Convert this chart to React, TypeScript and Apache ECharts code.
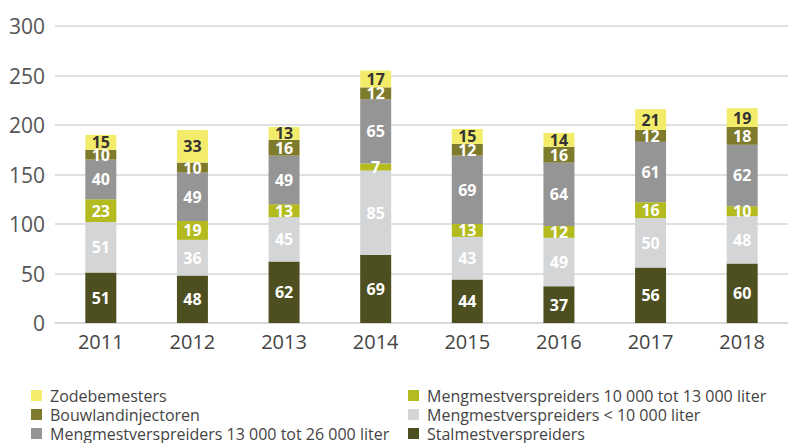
import React, { useEffect, useRef } from "react";
import * as echarts from "echarts";

const years = ["2011", "2012", "2013", "2014", "2015", "2016", "2017", "2018"];
const stalmest = [51, 48, 62, 69, 44, 37, 56, 60];
const mengKlein = [51, 36, 45, 85, 43, 49, 50, 48];
const mengMidden = [23, 19, 13, 7, 13, 12, 16, 10];
const mengGroot = [40, 49, 49, 65, 69, 64, 61, 62];
const bouwland = [10, 10, 16, 12, 12, 16, 12, 18];
const zode = [15, 33, 13, 17, 15, 14, 21, 19];

const names = {
  zode: "Zodebemesters",
  bouw: "Bouwlandinjectoren",
  groot: "Mengmestverspreiders 13 000 tot 26 000 liter",
  midden: "Mengmestverspreiders 10 000 tot 13 000 liter",
  klein: "Mengmestverspreiders < 10 000 liter",
  stal: "Stalmestverspreiders",
};

const FONT = "'Open Sans', sans-serif";

export default function App() {
  const ref = useRef<HTMLDivElement>(null);
  useEffect(() => {
    if (!ref.current) return;
    const chart = echarts.init(ref.current, null, { renderer: "svg" });
    const mk = (name: string, data: number[], color: string, labelColor: string) => ({
      name,
      type: "bar",
      stack: "total",
      data,
      barWidth: 31,
      itemStyle: { color },
      label: {
        show: true,
        position: "inside",
        color: labelColor,
        fontWeight: "bold",
        fontSize: 16,
        fontFamily: FONT,
      },
    });
    const legendText = {
      fontSize: 16,
      color: "#444",
      fontFamily: FONT,
      lineHeight: 19,
      padding: [0, 0, 0, 3],
    };
    const legendBase = {
      orient: "vertical",
      top: 386,
      height: 60,
      padding: 0,
      itemWidth: 11,
      itemHeight: 11,
      itemGap: 0,
      icon: "rect",
      textStyle: legendText,
    };
    chart.setOption({
      animation: false,
      grid: { left: 55, top: 26, bottom: 120, width: 751, containLabel: false },
      xAxis: {
        type: "category",
        data: years,
        axisTick: { show: false },
        axisLine: { lineStyle: { color: "#d6d6d6", width: 1.5 } },
        axisLabel: { fontSize: 20, color: "#444", fontFamily: FONT, margin: 8 },
      },
      yAxis: {
        type: "value",
        min: 0,
        max: 300,
        interval: 50,
        axisLabel: { fontSize: 21, color: "#555", fontFamily: FONT, margin: 10 },
        splitLine: { lineStyle: { color: "#d6d6d6", width: 1.5 } },
        axisLine: { show: false },
        axisTick: { show: false },
      },
      legend: [
        { ...legendBase, left: 31, data: [names.zode, names.bouw, names.groot] },
        { ...legendBase, left: 408, data: [names.midden, names.klein, names.stal] },
      ],
      series: [
        mk(names.stal, stalmest, "#4e4f20", "#fff"),
        mk(names.klein, mengKlein, "#d4d5d6", "#fff"),
        mk(names.midden, mengMidden, "#b3bb1f", "#fff"),
        mk(names.groot, mengGroot, "#959595", "#fff"),
        mk(names.bouw, bouwland, "#7f7b2d", "#fff"),
        mk(names.zode, zode, "#f3ec6b", "#333"),
      ],
    });
    return () => chart.dispose();
  }, []);
  return (
    <div
      ref={ref}
      style={{ position: "fixed", left: 0, top: 0, width: 788, height: 443, background: "#fff" }}
    />
  );
}
